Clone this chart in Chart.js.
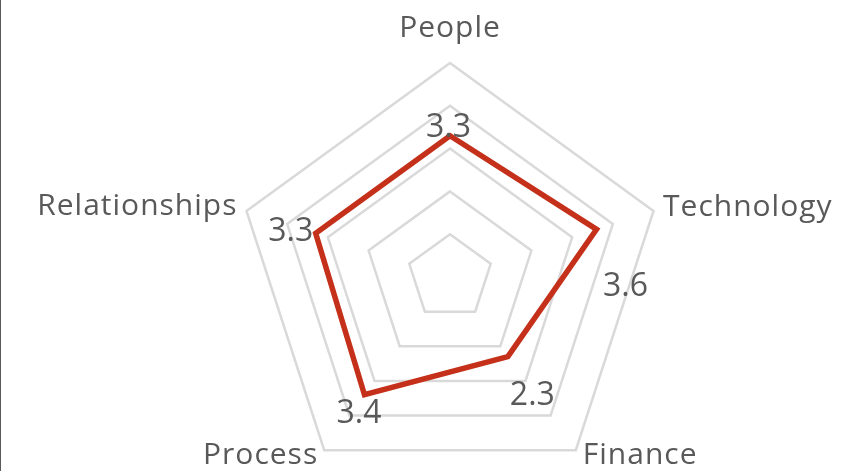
<!DOCTYPE html>
<html>
<head>
<meta charset="utf-8">
<script src="https://cdn.jsdelivr.net/npm/chart.js@4.4.0/dist/chart.umd.min.js"></script>
<style>
  html, body { margin: 0; padding: 0; background: #ffffff; }
  #wrap { position: relative; width: 865px; height: 471px; overflow: hidden; }
  #edge { position: absolute; left: 0; top: 0; width: 1px; height: 471px; background: #595959; }
</style>
</head>
<body>
<div id="wrap">
  <canvas id="c" width="865" height="471"></canvas>
  <div id="edge"></div>
</div>
<script>
// ---- data ----
const categories = ["People", "Technology", "Finance", "Process", "Relationships"];
const scores = [3.3, 3.6, 2.3, 3.4, 3.3];
const scaleTicks = [0, 1, 2, 3, 4, 5];

const TEXT = "#595959";
const FONT = "'Open Sans', 'Noto Sans', sans-serif";

// category labels around the outer ring, placed from the scale's own geometry
const categoryLabelPlugin = {
  id: "categoryLabels",
  afterDraw(chart) {
    const s = chart.scales.r;
    const ctx = chart.ctx;
    const place = [
      { align: "center", dx: 0, dy: -26 },
      { align: "left", dx: 9.5, dy: 5 },
      { align: "left", dx: 7, dy: 14 },
      { align: "right", dx: -6, dy: 14 },
      { align: "right", dx: -9, dy: 4 }
    ];
    ctx.save();
    ctx.font = "30px " + FONT;
    if ("letterSpacing" in ctx) ctx.letterSpacing = "1px";
    ctx.fillStyle = TEXT;
    ctx.textBaseline = "alphabetic";
    categories.forEach((lab, i) => {
      const p = s.getPointPosition(i, s.drawingArea);
      const o = place[i];
      ctx.textAlign = o.align;
      ctx.fillText(lab, p.x + o.dx, p.y + o.dy);
    });
    ctx.restore();
  }
};

// value labels next to each point
const valueLabelPlugin = {
  id: "valueLabels",
  afterDatasetsDraw(chart) {
    const ctx = chart.ctx;
    const meta = chart.getDatasetMeta(0);
    const offs = [[-1.5, 1], [29, 67], [24.5, 48], [-5.5, 28], [-25, 8]];
    ctx.save();
    ctx.font = "32px " + FONT;
    ctx.fillStyle = TEXT;
    ctx.textAlign = "center";
    ctx.textBaseline = "alphabetic";
    meta.data.forEach((pt, i) => {
      ctx.fillText(String(scores[i]), pt.x + offs[i][0], pt.y + offs[i][1]);
    });
    ctx.restore();
  }
};

new Chart(document.getElementById("c"), {
  type: "radar",
  data: {
    labels: categories,
    datasets: [{
      data: scores,
      borderColor: "#C5301A",
      borderWidth: 5.5,
      backgroundColor: "rgba(0,0,0,0)",
      fill: false,
      pointRadius: 0,
      pointHoverRadius: 0,
      borderJoinStyle: "miter",
      tension: 0
    }]
  },
  options: {
    responsive: false,
    animation: false,
    events: [],
    layout: { padding: { top: 43, bottom: 0, left: 236, right: 201 } },
    plugins: { legend: { display: false }, tooltip: { enabled: false } },
    scales: {
      r: {
        min: scaleTicks[0],
        max: scaleTicks[scaleTicks.length - 1],
        ticks: { display: false, stepSize: 1 },
        angleLines: { display: false },
        grid: { color: "#D9D9D9", lineWidth: 2.5 },
        pointLabels: { display: false },
        afterFit(scale) { scale.yCenter += 20; }
      }
    }
  },
  plugins: [categoryLabelPlugin, valueLabelPlugin]
});
</script>
</body>
</html>
